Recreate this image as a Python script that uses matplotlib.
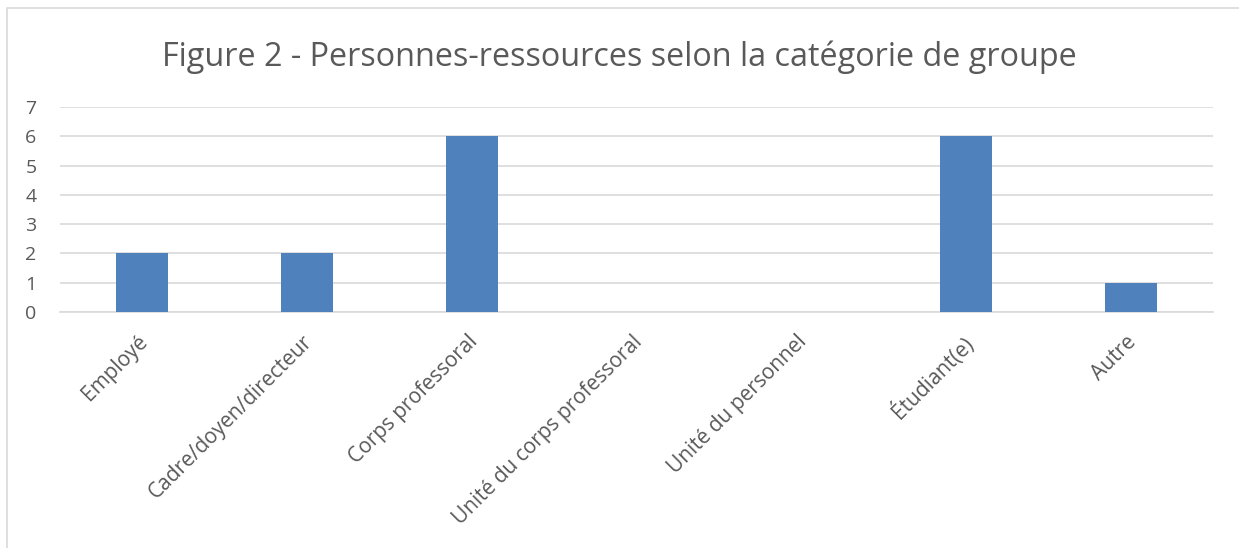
import matplotlib.pyplot as plt
import matplotlib.transforms as mtransforms
from matplotlib.patches import Rectangle

categories = ["Employé", "Cadre/doyen/directeur", "Corps professoral",
              "Unité du corps professoral", "Unité du personnel",
              "Étudiant(e)", "Autre"]
values = [2, 2, 6, 0, 0, 6, 1]
y_ticks = [0, 1, 2, 3, 4, 5, 6, 7]

TEXT = "#595959"
GRID = "#D9D9D9"
BAR = "#4F81BD"

plt.rcParams["font.family"] = ["Open Sans", "DejaVu Sans"]

W, H = 1239, 548
fig = plt.figure(figsize=(W / 100, H / 100), dpi=100)

# chart frame (cropped on the right and bottom)
fig.patches.append(Rectangle((7 / W, -0.1), 1.2, (H - 8) / H + 0.1,
                             transform=fig.transFigure, fill=False,
                             edgecolor=GRID, linewidth=1.2))

ax = fig.add_axes([60 / W, (H - 312) / H, (1213 - 60) / W, (312 - 107) / H])
x = range(len(categories))
ax.bar(x, values, width=0.316, color=BAR, zorder=3)

ax.set_xlim(-0.5, len(categories) - 0.5)
ax.set_ylim(0, 7)
ax.set_yticks(y_ticks)
ax.set_yticklabels([str(t) for t in y_ticks], fontsize=14, color=TEXT)
ax.set_xticks(list(x))
ax.set_xticklabels(categories, rotation=45, ha="right", va="top",
                   rotation_mode="anchor", fontsize=15, color=TEXT)
ax.tick_params(axis="both", length=0)
ax.tick_params(axis="y", pad=21)
ax.tick_params(axis="x", pad=14)
for lbl in ax.get_yticklabels():
    lbl.set_horizontalalignment("center")

# nudge the rotated labels a little to the left
shift = mtransforms.ScaledTranslation(-5 / 100, 0, fig.dpi_scale_trans)
for lbl in ax.get_xticklabels():
    lbl.set_transform(lbl.get_transform() + shift)

ax.grid(axis="y", color=GRID, linewidth=1.2, zorder=0)
for s in ["top", "right", "left"]:
    ax.spines[s].set_visible(False)
ax.spines["bottom"].set_color(GRID)
ax.spines["bottom"].set_linewidth(1.2)

fig.text(0.5, (H - 57) / H, "Figure 2 - Personnes-ressources selon la catégorie de groupe",
         ha="center", va="center", fontsize=23.3, color=TEXT)

fig.savefig("out.png", dpi=100)
